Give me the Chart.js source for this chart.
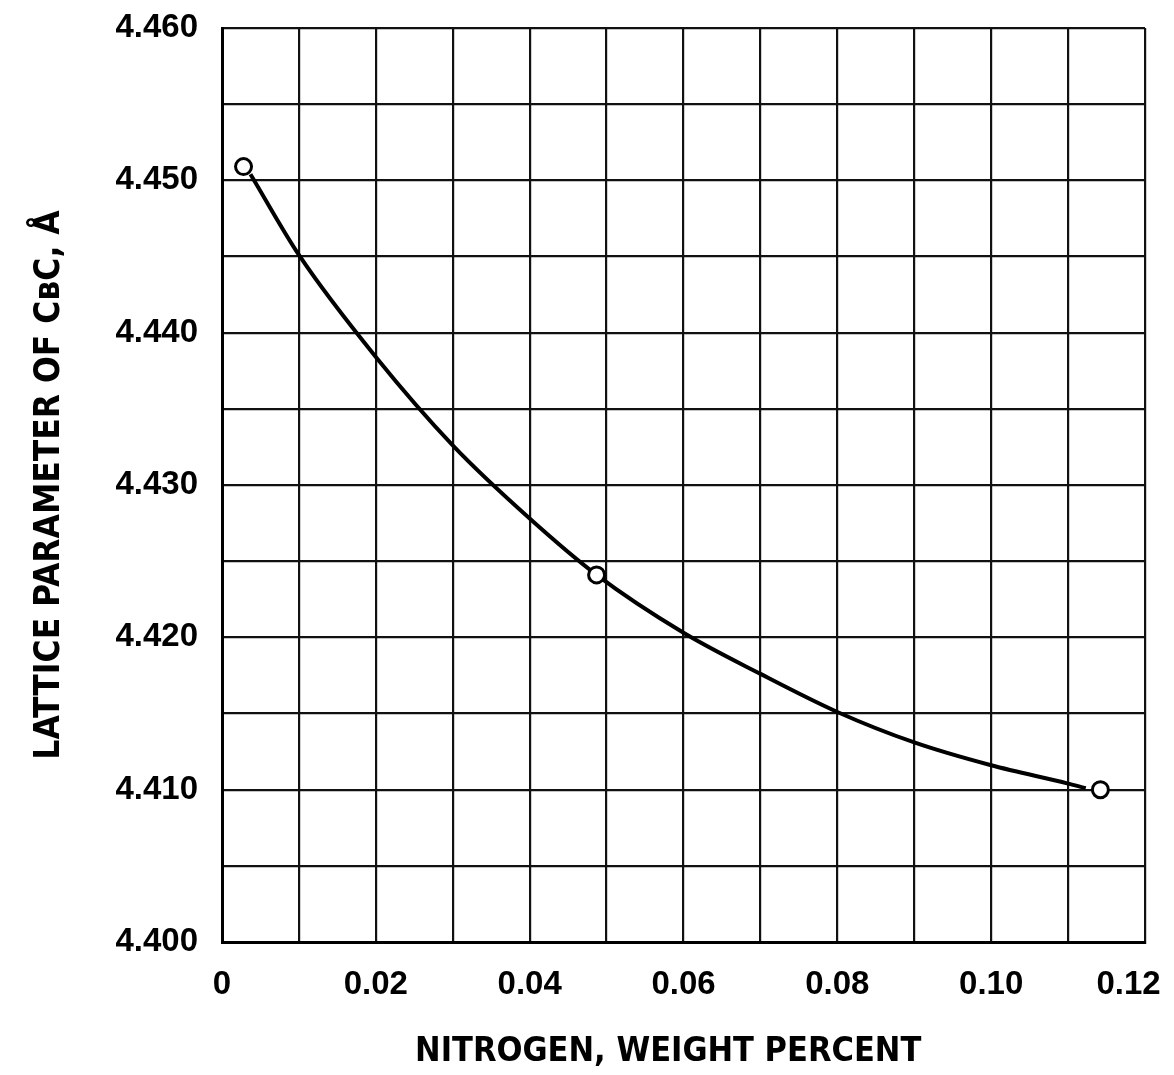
<!DOCTYPE html>
<html>
<head>
<meta charset="utf-8">
<script src="https://cdn.jsdelivr.net/npm/chart.js@4/dist/chart.umd.min.js"></script>
<style>
  html, body { margin:0; padding:0; background:#fff; }
  #wrap { width:1174px; height:1075px; }
</style>
</head>
<body>
<div id="wrap"><canvas id="chart"></canvas></div>
<script>
// titik data terukur (nitrogen %, parameter kisi)
const nitrogen = [0.0028, 0.0487, 0.1142];
const latticeParam = [4.4509, 4.4241, 4.4100];

// kurva yang digambar tangan
const curveX = [0.0037, 0.01, 0.02, 0.03, 0.04, 0.0487, 0.06, 0.07, 0.08, 0.09, 0.10, 0.11, 0.1123];
const curveY = [4.4504, 4.4451, 4.4384, 4.4326, 4.4278, 4.4241, 4.4203, 4.4176, 4.4151, 4.4131, 4.4116, 4.4104, 4.4101];

// label sumbu
const xTickLabels = ['0', '0.02', '0.04', '0.06', '0.08', '0.10', '0.12'];
const yTickLabels = ['4.400', '4.410', '4.420', '4.430', '4.440', '4.450', '4.460'];
const xTitle = 'NITROGEN, WEIGHT PERCENT';
const yTitle = 'LATTICE PARAMETER OF C\u0299C, \u00C5';

const tickFont = { family: '"Liberation Sans", sans-serif', weight: 'bold', size: 33 };
const xTitleFont = { family: '"DejaVu Sans Condensed", "Liberation Sans", sans-serif', weight: 'bold', size: 34 };
const yTitleFont = { family: '"DejaVu Sans Condensed", "Liberation Sans", sans-serif', weight: 'bold', size: 35 };

function xLabel(v) {
  let i = Math.round(v * 100);
  if (i % 2 !== 0) return '';
  let t = xTickLabels[i / 2];
  // label terakhir digeser sedikit ke kiri supaya tidak terpotong
  return i === 12 ? t + '\u2002\u2002' : t;
}
function yLabel(v) {
  let i = Math.round((v - 4.4) * 1000);
  return i % 10 === 0 ? yTickLabels[i / 10] : '';
}

window.onload = () => {
  const ctx = document.getElementById('chart').getContext('2d');
  new Chart(ctx, {
    type: 'scatter',
    data: {
      datasets: [
        {
          label: 'titik',
          data: nitrogen.map((x, i) => ({ x: x, y: latticeParam[i] })),
          pointRadius: 8,
          pointBorderWidth: 3,
          pointBorderColor: '#000',
          pointBackgroundColor: '#fff',
          showLine: false,
          order: 0
        },
        {
          label: 'kurva',
          data: curveX.map((x, i) => ({ x: x, y: curveY[i] })),
          showLine: true,
          borderColor: '#000',
          borderWidth: 4,
          pointRadius: 0,
          cubicInterpolationMode: 'monotone',
          order: 1
        }
      ]
    },
    options: {
      responsive: true,
      maintainAspectRatio: false,
      animation: false,
      layout: { padding: { top: 28, right: 29, left: 0, bottom: 0 } },
      plugins: { legend: { display: false }, tooltip: { enabled: false } },
      scales: {
        x: {
          type: 'linear', min: 0, max: 0.12,
          afterFit: s => { s.height = 133; s.paddingLeft = 0; s.paddingRight = 0; },
          border: { color: '#000', width: 3 },
          grid: { color: '#111', lineWidth: 2.2, drawTicks: false },
          ticks: { stepSize: 0.01, autoSkip: false, maxRotation: 0, padding: 23, color: '#000', font: tickFont, callback: xLabel },
          title: { display: true, text: xTitle + '\u2002\u2002', color: '#000', font: xTitleFont, padding: { top: 0, bottom: 2 } }
        },
        y: {
          type: 'linear', min: 4.4, max: 4.46,
          afterFit: s => { s.width = 222; s.paddingTop = 0; s.paddingBottom = 0; },
          border: { color: '#000', width: 3 },
          grid: { color: '#111', lineWidth: 2.2, drawTicks: false },
          ticks: { stepSize: 0.005, autoSkip: false, padding: 24, color: '#000', font: tickFont, callback: yLabel },
          title: { display: true, text: yTitle, color: '#000', font: yTitleFont, padding: { top: 29, bottom: 0 } }
        }
      }
    }
  });
};
</script>
</body>
</html>
